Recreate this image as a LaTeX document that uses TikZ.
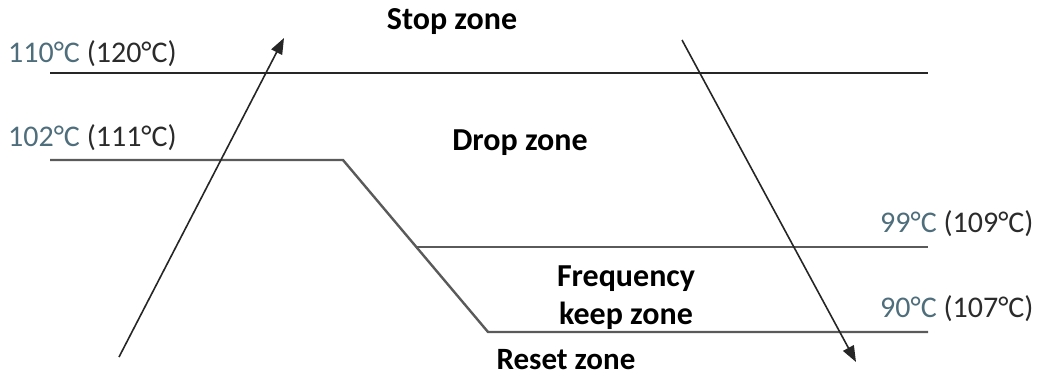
\documentclass[tikz,border=0pt]{standalone}
\usepackage{fontspec}
\setmainfont{Carlito}
\usetikzlibrary{arrows.meta}
\definecolor{numcol}{HTML}{4E6E7C}
\definecolor{parcol}{HTML}{2B2B2B}
\definecolor{linecol}{HTML}{5A5A5A}
\begin{document}
\begin{tikzpicture}[x=1pt,y=-1pt,
  zoneline/.style={draw=linecol,line width=2.4pt},
  topline/.style={draw=black!85,line width=2.4pt},
  flow/.style={draw=black!85,line width=1.6pt,-{Triangle[length=16pt,width=12pt]}},
  zonelbl/.style={font=\fontsize{32}{38}\selectfont\bfseries,text=black,inner sep=0pt,align=center},
  templbl/.style={font=\fontsize{30}{36}\selectfont,inner sep=0pt,anchor=west}]
\useasboundingbox (0,0) rectangle (1043,376);
% coordinates
\coordinate (t1a) at (50,73);
\coordinate (t1b) at (928,73);
\coordinate (t2a) at (50,160);
\coordinate (t2b) at (343,160);
\coordinate (t2c) at (488,332);
\coordinate (t2d) at (928,332);
\coordinate (t3a) at (416,247);
\coordinate (t3b) at (928,247);
\coordinate (upS) at (119,357);
\coordinate (upE) at (284,38);
\coordinate (dnS) at (682,40);
\coordinate (dnE) at (856,362);
% lines
\draw[topline] (t1a) -- (t1b);
\draw[zoneline] (t2a) -- (t2b) -- (t2c) -- (t2d);
\draw[zoneline] (t3a) -- (t3b);
% arrows
\draw[flow] (upS) -- (upE);
\draw[flow] (dnS) -- (dnE);
% zone labels
\node[zonelbl] (stop) at (452,22) {Stop zone};
\node[zonelbl] (drop) at (520,143) {Drop zone};
\node[zonelbl] (freq) at (626,298) {Frequency\\keep zone};
\node[zonelbl,font=\fontsize{31}{36}\selectfont\bfseries,anchor=base] (reset) at (566,369) {Reset zone};
% temperature labels
\node[templbl] (l110) at (8,54) {\textcolor{numcol}{110°C}\ \textcolor{parcol}{(120°C)}};
\node[templbl] (l102) at (8,138) {\textcolor{numcol}{102°C}\ \textcolor{parcol}{(111°C)}};
\node[templbl] (l99) at (880,224) {\textcolor{numcol}{99°C}\ \textcolor{parcol}{(109°C)}};
\node[templbl] (l90) at (880,309) {\textcolor{numcol}{90°C}\ \textcolor{parcol}{(107°C)}};
\end{tikzpicture}
\end{document}
